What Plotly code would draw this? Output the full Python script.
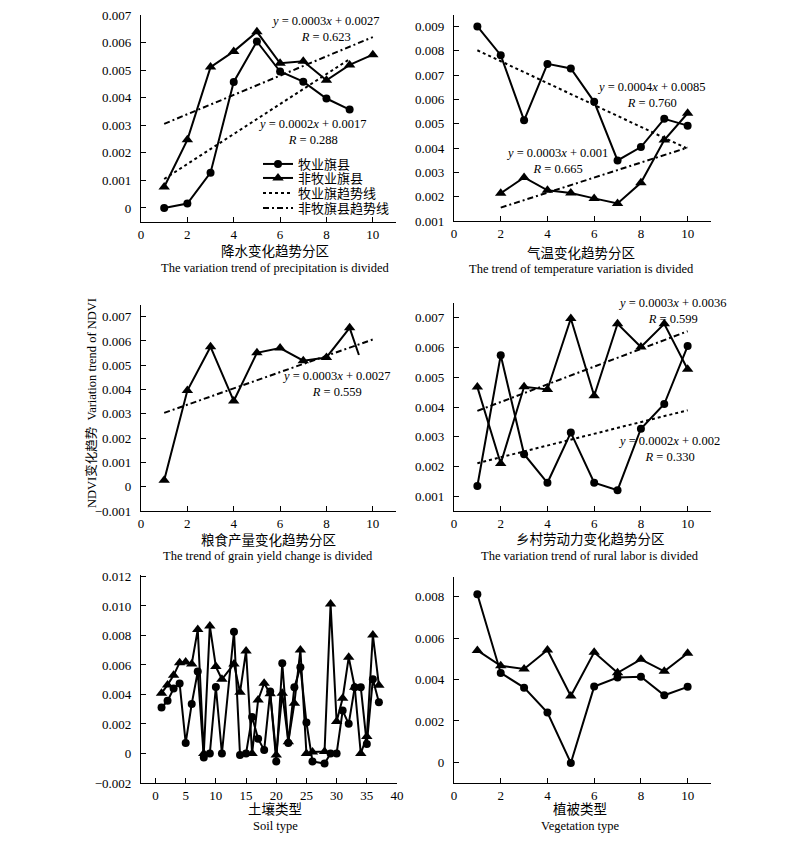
import plotly.graph_objects as go

# ---------------- data ----------------
x10 = [1, 2, 3, 4, 5, 6, 7, 8, 9, 10]

# Panel 1: precipitation
p1_past_x = [1, 2, 3, 4, 5, 6, 7, 8, 9]
p1_past = [0.0, 0.00016, 0.00128, 0.00457, 0.00604, 0.00495, 0.00458, 0.00397, 0.00357]
p1_non = [0.00076, 0.00247, 0.00511, 0.00568, 0.00639, 0.00525, 0.00532, 0.00463, 0.00519, 0.00556]
p1_trend_past_x = [1, 9]
p1_trend_past = [0.00105, 0.0054]
p1_trend_non_x = [1, 10]
p1_trend_non = [0.00305, 0.0062]

# Panel 2: temperature
p2_past = [0.0090, 0.00782, 0.00514, 0.00746, 0.00727, 0.0059, 0.00349, 0.00404, 0.0052, 0.00492]
p2_non_x = [2, 3, 4, 5, 6, 7, 8, 9, 10]
p2_non = [0.00214, 0.00279, 0.00226, 0.00215, 0.00193, 0.00172, 0.00257, 0.00433, 0.00543]
p2_trend_past_x = [1, 10]
p2_trend_past = [0.00802, 0.00397]
p2_trend_non_x = [2, 10]
p2_trend_non = [0.00155, 0.00402]

# Panel 3: grain yield (last point is an unmarked line end)
p3_non_x = [1, 2, 3, 4, 5, 6, 7, 8, 9, 9.4]
p3_non = [0.00027, 0.00396, 0.00576, 0.00353, 0.00551, 0.00571, 0.00519, 0.00532, 0.00654, 0.00542]
p3_trend_x = [1, 10]
p3_trend = [0.00304, 0.00606]

# Panel 4: rural labor
p4_past = [0.00134, 0.00574, 0.00241, 0.00145, 0.00314, 0.00145, 0.0012, 0.00327, 0.0041, 0.00605]
p4_non = [0.00467, 0.0021, 0.00468, 0.00459, 0.00698, 0.00438, 0.0068, 0.00602, 0.0068, 0.00527]
p4_trend_past_x = [1, 10]
p4_trend_past = [0.00211, 0.00389]
p4_trend_non_x = [1, 10]
p4_trend_non = [0.00387, 0.00655]

# Panel 5: soil type
soil_x = [1, 2, 3, 4, 5, 6, 7, 8, 9, 10, 11, 13, 14, 15, 16, 17, 18, 19, 20, 21, 22, 23, 24, 25, 26,
          28, 29, 30, 31, 32, 33, 34, 35, 36, 37]
soil_past = [0.00312, 0.00357, 0.0044, 0.00474, 0.00072, 0.00336, 0.00555, -0.00027, 0.0, 0.00451, 0.0,
             0.00826, -0.0001, 0.0, 0.00248, 0.001, 0.00023, 0.0042, -0.00054, 0.00612, 0.00072, 0.00449,
             0.00585, 0.0021, -0.00054, -0.00068, 0.0, 0.0, 0.00291, 0.00201, 0.00449, 0.00449, 0.00065,
             0.00503, 0.00348]
soil_non = [0.00409, 0.00465, 0.0053, 0.00616, 0.0062, 0.00607, 0.0084, 0.0, 0.00865, 0.00589, 0.00503,
            0.00607, 0.00415, 0.00695, 0.0, 0.00363, 0.00476, 0.00405, -0.0001, 0.00409, 0.0008, 0.0034,
            0.00702, 0.0, 0.0001, 0.00014, 0.01013, 0.00217, 0.00375, 0.00652, 0.00449, 0.0, 0.00115,
            0.00804, 0.00463]

# Panel 6: vegetation type
veg_past = [0.00813, 0.00432, 0.00361, 0.00241, -0.00003, 0.00366, 0.0041, 0.00414, 0.00324, 0.00365]
veg_non = [0.00541, 0.00467, 0.00451, 0.00543, 0.00321, 0.00532, 0.00433, 0.00498, 0.0044, 0.00527]

names = ["牧业旗县", "非牧业旗县", "牧业旗趋势线", "非牧旗县趋势线"]

# ---------------- layout helpers ----------------
W, H = 800, 842
FONT = "Liberation Serif, Times New Roman, Noto Sans CJK SC, serif"


def px_x(p):
    return p / W


def px_y(p):
    return 1 - p / H


panels = [
    dict(l=141, r=396, t=15, b=222, xr=[0, 11], yr=[-0.00051, 0.007],
         yt=[0, 0.001, 0.002, 0.003, 0.004, 0.005, 0.006, 0.007],
         ytt=["0", "0.001", "0.002", "0.003", "0.004", "0.005", "0.006", "0.007"], dx=2, x0=0),
    dict(l=454, r=711, t=15, b=221, xr=[0, 11], yr=[0.001, 0.00947],
         yt=[0.001, 0.002, 0.003, 0.004, 0.005, 0.006, 0.007, 0.008, 0.009],
         ytt=["0.001", "0.002", "0.003", "0.004", "0.005", "0.006", "0.007", "0.008", "0.009"], dx=2, x0=0),
    dict(l=141, r=396, t=305, b=511, xr=[0, 11], yr=[-0.001, 0.00748],
         yt=[-0.001, 0, 0.001, 0.002, 0.003, 0.004, 0.005, 0.006, 0.007],
         ytt=["\u22120.001", "0", "0.001", "0.002", "0.003", "0.004", "0.005", "0.006", "0.007"], dx=2, x0=0),
    dict(l=454, r=711, t=303, b=511, xr=[0, 11], yr=[0.0005, 0.0075],
         yt=[0.001, 0.002, 0.003, 0.004, 0.005, 0.006, 0.007],
         ytt=["0.001", "0.002", "0.003", "0.004", "0.005", "0.006", "0.007"], dx=2, x0=0),
    dict(l=141, r=397, t=575, b=783, xr=[-2.4, 40], yr=[-0.002, 0.0121],
         yt=[-0.002, 0, 0.002, 0.004, 0.006, 0.008, 0.010, 0.012],
         ytt=["\u22120.002", "0", "0.002", "0.004", "0.006", "0.008", "0.010", "0.012"], dx=5, x0=0),
    dict(l=454, r=711, t=577, b=783, xr=[0, 11], yr=[-0.001, 0.00896],
         yt=[0, 0.002, 0.004, 0.006, 0.008],
         ytt=["0", "0.002", "0.004", "0.006", "0.008"], dx=2, x0=0),
]

fig = go.Figure()
layout = {}
for i, p in enumerate(panels):
    k = "" if i == 0 else str(i + 1)
    layout["xaxis" + k] = dict(
        domain=[px_x(p["l"]), px_x(p["r"])], range=p["xr"], anchor="y" + k,
        showline=True, linecolor="black", linewidth=1.2, ticks="inside", ticklen=5,
        tickcolor="black", tick0=p["x0"], dtick=p["dx"], showgrid=False, zeroline=False,
        tickfont=dict(family=FONT, size=13, color="black"), ticklabelstandoff=0,
        automargin=False,
    )
    layout["yaxis" + k] = dict(
        domain=[px_y(p["b"]), px_y(p["t"])], range=p["yr"], anchor="x" + k,
        showline=True, linecolor="black", linewidth=1.2, ticks="inside", ticklen=5,
        tickcolor="black", tickvals=p["yt"], ticktext=p["ytt"], showgrid=False, zeroline=False,
        tickfont=dict(family=FONT, size=13, color="black"), ticklabelstandoff=6,
        automargin=False,
    )


def ax(i):
    k = "" if i == 0 else str(i + 1)
    return "x" + k, "y" + k


def series(i, x, y, symbol, name=None, legend=None, mode="lines+markers"):
    xa, ya = ax(i)
    size = 8 if symbol == "circle" else 10
    kw = dict(showlegend=False)
    if legend:
        kw = dict(showlegend=True, legend=legend)
    fig.add_trace(go.Scatter(
        x=x, y=y, mode=mode, xaxis=xa, yaxis=ya,
        line=dict(color="black", width=2),
        marker=dict(symbol=symbol, size=size, color="black"),
        name=name, **kw,
    ))


def trend(i, x, y, dash, name=None, legend=None):
    xa, ya = ax(i)
    kw = dict(showlegend=False)
    if legend:
        kw = dict(showlegend=True, legend=legend)
    fig.add_trace(go.Scatter(
        x=x, y=y, mode="lines", xaxis=xa, yaxis=ya,
        line=dict(color="black", width=2, dash=dash),
        name=name, **kw,
    ))


DOT = "dot"
DASHDOT = "6px,3px,2px,3px"

# Panel 1
series(0, p1_past_x, p1_past, "circle", names[0], "legend")
series(0, x10, p1_non, "triangle-up", names[1], "legend2")
trend(0, p1_trend_past_x, p1_trend_past, DOT, names[2], "legend3")
trend(0, p1_trend_non_x, p1_trend_non, DASHDOT, names[3], "legend4")
# Panel 2
series(1, x10, p2_past, "circle")
series(1, p2_non_x, p2_non, "triangle-up")
trend(1, p2_trend_past_x, p2_trend_past, DOT)
trend(1, p2_trend_non_x, p2_trend_non, DASHDOT)
# Panel 3
series(2, p3_non_x, p3_non, "triangle-up", mode="lines")
series(2, p3_non_x[:-1], p3_non[:-1], "triangle-up", mode="markers")
trend(2, p3_trend_x, p3_trend, DASHDOT)
# Panel 4
series(3, x10, p4_past, "circle")
series(3, x10, p4_non, "triangle-up")
trend(3, p4_trend_past_x, p4_trend_past, DOT)
trend(3, p4_trend_non_x, p4_trend_non, DASHDOT)
# Panel 5
series(4, soil_x, soil_past, "circle")
series(4, soil_x, soil_non, "triangle-up")
# Panel 6
series(5, x10, veg_past, "circle")
series(5, x10, veg_non, "triangle-up")

annotations = []


def text(x, y, s, size=13, angle=0):
    annotations.append(dict(
        x=px_x(x), y=px_y(y), xref="paper", yref="paper", text=s, showarrow=False,
        xanchor="center", yanchor="middle", textangle=angle, align="center",
        font=dict(family=FONT, size=size, color="black"),
    ))


titles = [
    (275, 251, 268, "降水变化趋势分区", "The variation trend of precipitation is divided"),
    (581, 253, 269, "气温变化趋势分区", "The trend of temperature variation is divided"),
    (268, 540, 556, "粮食产量变化趋势分区", "The trend of grain yield change is divided"),
    (590, 539, 556, "乡村劳动力变化趋势分区", "The variation trend of rural labor is divided"),
    (275, 809, 826, "土壤类型", "Soil type"),
    (580, 809, 826, "植被类型", "Vegetation type"),
]
for cx, yc, ye, cn, en in titles:
    text(cx, yc, cn, size=13.5)
    text(cx, ye, en, size=12.5)

# regression equations (equation line + R line)
eqs = [
    (325, 29.5, "<i>y</i> = 0.0003<i>x</i> + 0.0027", "<i>R</i> = 0.623"),
    (312, 132, "<i>y</i> = 0.0002<i>x</i> + 0.0017", "<i>R</i> = 0.288"),
    (651, 95, "<i>y</i> = 0.0004<i>x</i> + 0.0085", "<i>R</i> = 0.760"),
    (557, 161, "<i>y</i> = 0.0003<i>x</i> + 0.001", "<i>R</i> = 0.665"),
    (336, 383.5, "<i>y</i> = 0.0003<i>x</i> + 0.0027", "<i>R</i> = 0.559"),
    (672, 311, "<i>y</i> = 0.0003<i>x</i> + 0.0036", "<i>R</i> = 0.599"),
    (669, 448.5, "<i>y</i> = 0.0002<i>x</i> + 0.002", "<i>R</i> = 0.330"),
]
for x, y, s1, s2 in eqs:
    text(x, y, s1 + "<br>" + s2, size=12.5)

text(92, 403, "NDVI变化趋势  Variation trend of NDVI", size=12.5, angle=-90)


def leg(yc):
    return dict(
        x=px_x(258), y=px_y(yc), xanchor="left", yanchor="middle",
        bgcolor="rgba(0,0,0,0)", font=dict(family=FONT, size=13, color="black"),
        itemwidth=30,
    )


fig.update_layout(
    **layout,
    annotations=annotations,
    width=W, height=H,
    margin=dict(l=0, r=0, t=0, b=0, autoexpand=False),
    paper_bgcolor="white", plot_bgcolor="white",
    font=dict(family=FONT, size=13, color="black"),
    showlegend=True,
    legend=leg(164), legend2=leg(178), legend3=leg(193), legend4=leg(208),
)

fig.write_html(
    "out.html",
    config={"displayModeBar": False},
    post_script="document.body.style.margin='0';document.body.style.overflow='hidden';",
)
